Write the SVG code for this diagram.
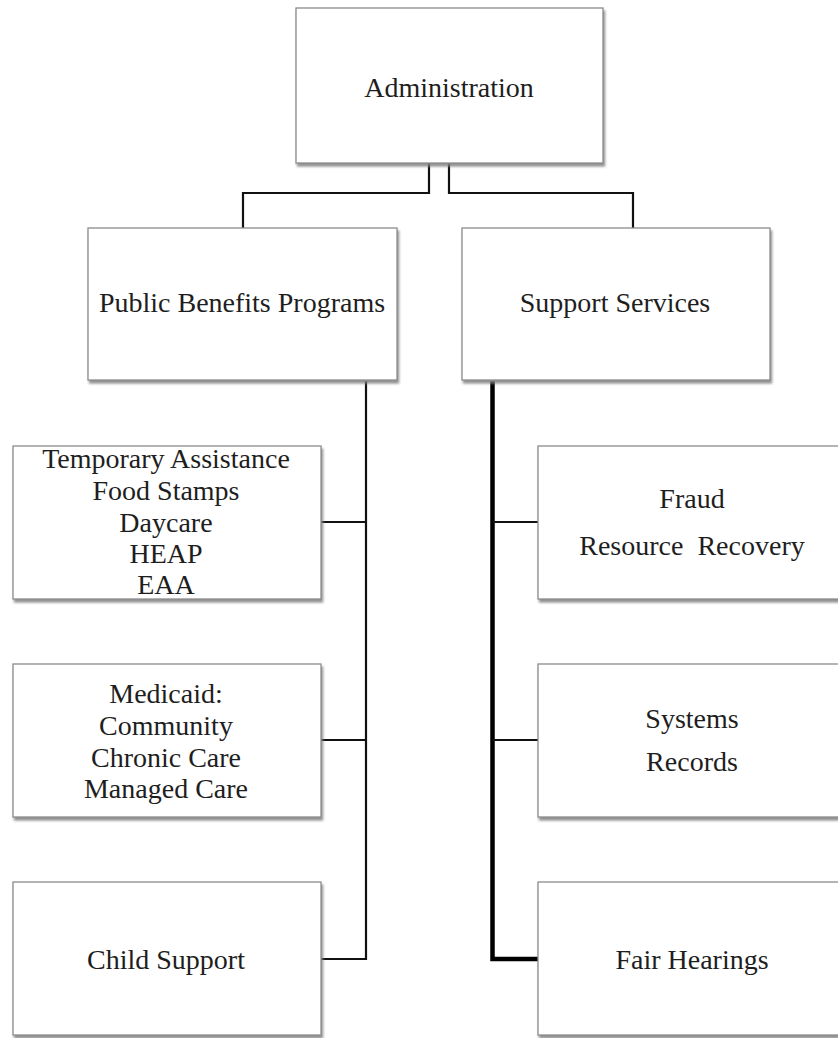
<svg xmlns="http://www.w3.org/2000/svg" width="838" height="1038" viewBox="0 0 838 1038">
  <defs>
    <filter id="shadow" x="-5%" y="-5%" width="115%" height="120%">
      <feDropShadow dx="1.5" dy="3" stdDeviation="1.2" flood-color="#808080" flood-opacity="0.85"/>
    </filter>
  </defs>
  <style>
    .box { fill: #ffffff; stroke: #8c8c8c; stroke-width: 1.3; filter: url(#shadow); }
    .label { font-family: "Liberation Serif", "DejaVu Serif", serif; font-size: 28px; fill: #1e1e1e; text-anchor: middle; }
    .wire { fill: none; stroke: #111111; stroke-width: 2.2; stroke-linejoin: miter; }
    .wire-bold { fill: none; stroke: #000000; stroke-width: 4.5; stroke-linejoin: miter; }
  </style>

  <rect width="838" height="1038" fill="#ffffff"/>

  <!-- connectors -->
  <g id="connectors">
    <path class="wire" d="M429,163 V193 H243 V228"/>
    <path class="wire" d="M449,163 V193 H633 V228"/>
    <path class="wire" d="M366,381 V959 H321"/>
    <path class="wire" d="M321,522 H366"/>
    <path class="wire" d="M321,740 H366"/>
    <path class="wire-bold" d="M492.5,381 V959 H538"/>
    <path class="wire" d="M492,522 H538"/>
    <path class="wire" d="M492,740 H538"/>
  </g>

  <!-- top level -->
  <g id="administration">
    <rect class="box" x="296" y="8" width="307" height="155"/>
    <text class="label" x="449" y="97">Administration</text>
  </g>

  <!-- second level -->
  <g id="public-benefits">
    <rect class="box" x="88" y="228" width="309" height="152"/>
    <text class="label" x="242" y="312">Public Benefits Programs</text>
  </g>
  <g id="support-services">
    <rect class="box" x="462" y="228" width="308" height="152"/>
    <text class="label" x="615" y="312">Support Services</text>
  </g>

  <!-- public benefits units -->
  <g id="temporary-assistance">
    <rect class="box" x="13" y="446" width="308" height="153"/>
    <text class="label" x="166" y="468">Temporary Assistance</text>
    <text class="label" x="166" y="500">Food Stamps</text>
    <text class="label" x="166" y="532">Daycare</text>
    <text class="label" x="166" y="563">HEAP</text>
    <text class="label" x="166" y="594">EAA</text>
  </g>
  <g id="medicaid">
    <rect class="box" x="13" y="664" width="308" height="153"/>
    <text class="label" x="166" y="703">Medicaid:</text>
    <text class="label" x="166" y="735">Community</text>
    <text class="label" x="166" y="767">Chronic Care</text>
    <text class="label" x="166" y="798">Managed Care</text>
  </g>
  <g id="child-support">
    <rect class="box" x="13" y="882" width="308" height="153"/>
    <text class="label" x="166" y="969">Child Support</text>
  </g>

  <!-- support services units -->
  <g id="fraud">
    <rect class="box" x="538" y="446" width="310" height="153"/>
    <text class="label" x="692" y="508">Fraud</text>
    <text class="label" x="692" y="555" xml:space="preserve">Resource  Recovery</text>
  </g>
  <g id="systems">
    <rect class="box" x="538" y="664" width="310" height="153"/>
    <text class="label" x="692" y="728">Systems</text>
    <text class="label" x="692" y="771">Records</text>
  </g>
  <g id="fair-hearings">
    <rect class="box" x="538" y="882" width="310" height="153"/>
    <text class="label" x="692" y="969">Fair Hearings</text>
  </g>
</svg>
